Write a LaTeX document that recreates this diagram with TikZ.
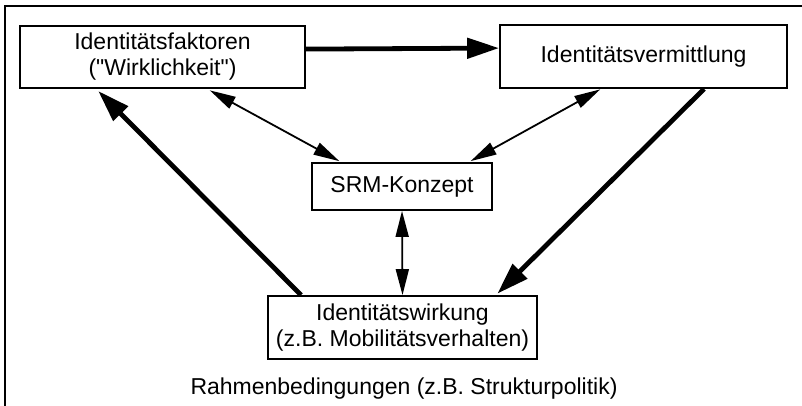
\documentclass[tikz,border=0pt]{standalone}
\usepackage{fontspec}
\setmainfont{Liberation Sans}[Ligatures=TeXOff]
\usetikzlibrary{arrows.meta,calc}
\begin{document}
\begin{tikzpicture}[x=1pt,y=-1pt,
  box/.style={draw,line width=1.8pt,inner sep=0pt,align=center,font=\fontsize{23}{26}\selectfont},
  thick arrow/.style={line width=4.8pt,-{Triangle[length=32pt,width=20pt]}},
  thin arrow/.style={line width=1.8pt,{Triangle[length=26pt,width=13pt]}-{Triangle[length=26pt,width=13pt]}},
  frame/.style={line width=2.4pt}]
\useasboundingbox (0,0) rectangle (802,406);
\coordinate (ftop) at (802,6);
\coordinate (fcorner) at (5,6);
\coordinate (fbottom) at (5,406);
\draw[frame] (ftop) -- (fcorner) -- (fbottom);
\node[box,minimum width=285pt,minimum height=62pt] (b1) at (162.5,57) {Identitätsfaktoren\\("Wirklichkeit")};
\node[box,minimum width=287pt,minimum height=63pt] (b2) at (643.5,56.5) {Identitätsvermittlung};
\node[box,minimum width=180pt,minimum height=47pt] (srm) at (402,186.5) {SRM-Konzept};
\node[box,minimum width=269pt,minimum height=63pt] (w) at (402.5,327.5) {Identitätswirkung\\(z.B. Mobilitätsverhalten)};
\node[font=\fontsize{23}{26}\selectfont] (rb) at (404,389) {Rahmenbedingungen (z.B. Strukturpolitik)};
\draw[thick arrow] ($(b1.north east)+(0,24)$) -- ($(b2.north west)+(0,24)$);
\draw[thin arrow,shorten <=3pt,shorten >=2pt] ($(b1.south west)+(188,0)$) -- ($(srm.north west)+(30,0)$);
\draw[thin arrow,shorten <=1pt,shorten >=2pt] ($(b2.south west)+(102,0)$) -- ($(srm.north east)+(-24,0)$);
\draw[thick arrow,shorten >=3pt] ($(w.north west)+(34,0)$) -- ($(b1.south west)+(77,0)$);
\draw[thick arrow,shorten >=2pt] ($(b2.south west)+(205,0)$) -- ($(w.north east)+(-42,0)$);
\draw[thin arrow] (srm.south) -- (w.north);
\end{tikzpicture}
\end{document}
